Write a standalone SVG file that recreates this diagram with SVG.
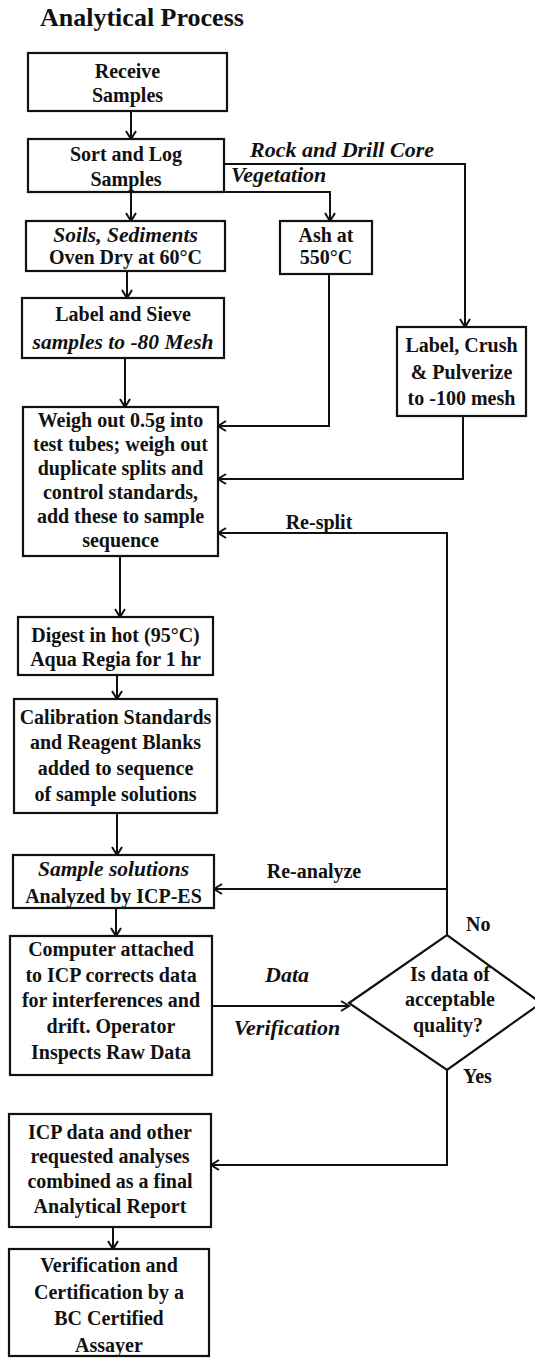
<svg xmlns="http://www.w3.org/2000/svg" width="535" height="1358" viewBox="0 0 535 1358">
<defs>
<marker id="arr" markerUnits="userSpaceOnUse" markerWidth="12" markerHeight="12" refX="9" refY="6" orient="auto">
<path d="M1,1 L9,6 L1,11" fill="none" stroke="#111" stroke-width="2"/>
</marker>
<style>
.box{fill:#fff;stroke:#111;stroke-width:2.2}
.t{font-family:"Liberation Serif","Times New Roman",serif;font-weight:bold;font-size:20px;fill:#111;text-anchor:middle}
.i{font-style:italic;font-size:21.5px}
.lb{font-size:22px}
.l{text-anchor:start}
.c{fill:none;stroke:#111;stroke-width:2}
</style>
</defs>
<rect width="535" height="1358" fill="#fff"/>
<text x="40" y="26" class="t l" style="font-size:26px">Analytical Process</text>

<g id="connectors">
<path class="c" d="M131,111 V139" marker-end="url(#arr)"/>
<path class="c" d="M131,192 V221" marker-end="url(#arr)"/>
<path class="c" d="M224,192 H330 V221" marker-end="url(#arr)"/>
<path class="c" d="M224,164 H465 V327" marker-end="url(#arr)"/>
<path class="c" d="M127,271 V298" marker-end="url(#arr)"/>
<path class="c" d="M329,274 V426 H218" marker-end="url(#arr)"/>
<path class="c" d="M125,358 V407" marker-end="url(#arr)"/>
<path class="c" d="M463,416 V479 H218" marker-end="url(#arr)"/>
<path class="c" d="M447,935 V533 H218" marker-end="url(#arr)"/>
<path class="c" d="M447,889 H214" marker-end="url(#arr)"/>
<path class="c" d="M120,556 V617" marker-end="url(#arr)"/>
<path class="c" d="M117,675 V699" marker-end="url(#arr)"/>
<path class="c" d="M117,813 V855" marker-end="url(#arr)"/>
<path class="c" d="M116,908 V936" marker-end="url(#arr)"/>
<path class="c" d="M212,1006 H349" marker-end="url(#arr)"/>
<path class="c" d="M447,1070 V1165 H211" marker-end="url(#arr)"/>
<path class="c" d="M113,1227 V1249" marker-end="url(#arr)"/>
<text x="250" y="157" class="t i l lb">Rock and Drill Core</text>
<text x="231" y="182" class="t i l lb">Vegetation</text>
<text x="319" y="529" class="t">Re-split</text>
<text x="314" y="878" class="t">Re-analyze</text>
<text x="287" y="982" class="t i lb">Data</text>
<text x="287" y="1035" class="t i lb">Verification</text>
<text x="466" y="931" class="t l">No</text>
<text x="463" y="1083" class="t l">Yes</text>
</g>

<g id="receive">
<rect class="box" x="28" y="53" width="199" height="58"/>
<text class="t" x="127.5" y="78">Receive</text>
<text class="t" x="127.5" y="102">Samples</text>
</g>
<g id="sort">
<rect class="box" x="28" y="139" width="196" height="53"/>
<text class="t" x="126" y="161">Sort and Log</text>
<text class="t" x="126" y="186">Samples</text>
</g>
<g id="soils">
<rect class="box" x="26" y="221" width="199" height="50"/>
<text class="t i" x="125.5" y="242">Soils, Sediments</text>
<text class="t" x="125.5" y="264">Oven Dry at 60°C</text>
</g>
<g id="ash">
<rect class="box" x="280" y="221" width="92" height="53"/>
<text class="t" x="326" y="242">Ash at</text>
<text class="t" x="326" y="264">550°C</text>
</g>
<g id="sieve">
<rect class="box" x="22" y="298" width="202" height="60"/>
<text class="t" x="123" y="321">Label and Sieve</text>
<text class="t i" x="123" y="349">samples to -80 Mesh</text>
</g>
<g id="crush">
<rect class="box" x="397" y="327" width="129" height="89"/>
<text class="t" x="461.5" y="352">Label, Crush</text>
<text class="t" x="461.5" y="379">&amp; Pulverize</text>
<text class="t" x="461.5" y="405">to -100 mesh</text>
</g>
<g id="weigh">
<rect class="box" x="23" y="407" width="195" height="149"/>
<text class="t" x="120.5" y="427">Weigh out 0.5g into</text>
<text class="t" x="120.5" y="451">test tubes; weigh out</text>
<text class="t" x="120.5" y="475">duplicate splits and</text>
<text class="t" x="120.5" y="499">control standards,</text>
<text class="t" x="120.5" y="523">add these to sample</text>
<text class="t" x="120.5" y="547">sequence</text>
</g>
<g id="digest">
<rect class="box" x="18" y="617" width="195" height="58"/>
<text class="t" x="115.5" y="642">Digest in hot (95°C)</text>
<text class="t" x="115.5" y="666">Aqua Regia for 1 hr</text>
</g>
<g id="calibration">
<rect class="box" x="14" y="699" width="203" height="114"/>
<text class="t" x="115.5" y="724">Calibration Standards</text>
<text class="t" x="115.5" y="749">and Reagent Blanks</text>
<text class="t" x="115.5" y="775">added to sequence</text>
<text class="t" x="115.5" y="801">of sample solutions</text>
</g>
<g id="analyze">
<rect class="box" x="13" y="855" width="201" height="53"/>
<text class="t i" x="113.5" y="876">Sample solutions</text>
<text class="t" x="113.5" y="903">Analyzed by ICP-ES</text>
</g>
<g id="computer">
<rect class="box" x="10" y="936" width="202" height="139"/>
<text class="t" x="111" y="956">Computer attached</text>
<text class="t" x="111" y="982">to ICP corrects data</text>
<text class="t" x="111" y="1007">for interferences and</text>
<text class="t" x="111" y="1033">drift. Operator</text>
<text class="t" x="111" y="1059">Inspects Raw Data</text>
</g>
<g id="decision">
<polygon class="box" points="349,1003 447,935 541,1003 447,1070"/>
<text class="t" x="450" y="981">Is data of</text>
<text class="t" x="450" y="1006">acceptable</text>
<text class="t" x="448" y="1032">quality?</text>
</g>
<g id="report">
<rect class="box" x="9" y="1114" width="202" height="113"/>
<text class="t" x="110" y="1139">ICP data and other</text>
<text class="t" x="110" y="1163">requested analyses</text>
<text class="t" x="110" y="1188">combined as a final</text>
<text class="t" x="110" y="1213">Analytical Report</text>
</g>
<g id="certification">
<rect class="box" x="9" y="1249" width="200" height="107"/>
<text class="t" x="109" y="1272">Verification and</text>
<text class="t" x="109" y="1299">Certification by a</text>
<text class="t" x="109" y="1325">BC Certified</text>
<text class="t" x="109" y="1352">Assayer</text>
</g>
</svg>
